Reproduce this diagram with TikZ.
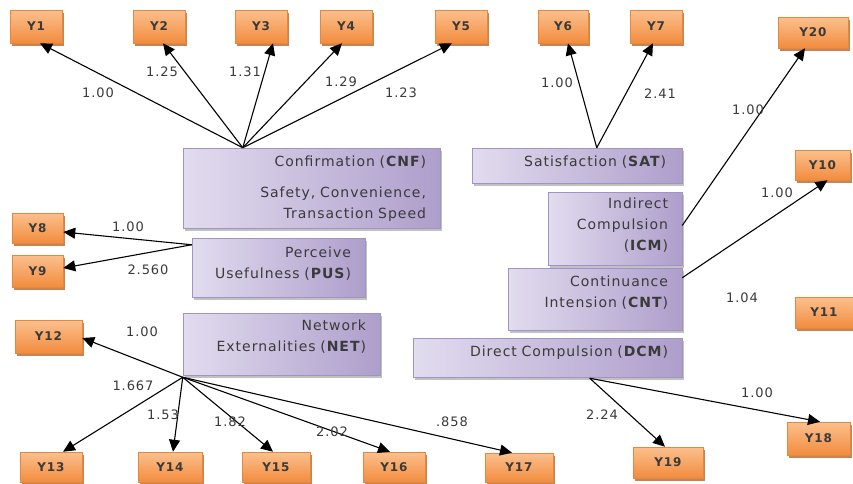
\documentclass[tikz,border=0pt]{standalone}
\usepackage{fontspec}
\setmainfont{DejaVu Sans}[LetterSpace=7]
\usetikzlibrary{arrows.meta,shadows,calc}
\definecolor{txt}{HTML}{3A3A3A}
\definecolor{pl}{HTML}{E2DCEF}
\definecolor{pr}{HTML}{AE9ECB}
\definecolor{pbd}{HTML}{A294C2}
\definecolor{ot}{HTML}{FBC08E}
\definecolor{ob}{HTML}{F28C3E}
\definecolor{obd}{HTML}{E3893F}
\definecolor{osh}{HTML}{B9652A}
\newcommand{\rlines}[2]{\begin{tabular}{@{}r@{}}#1\\[#2]\end{tabular}}
\tikzset{
  obox/.style={draw=obd, line width=0.5pt, top color=ot, bottom color=ob,
    drop shadow={shadow xshift=2pt, shadow yshift=-3pt, fill=osh, opacity=0.8},
    font=\fontsize{12}{14}\selectfont\bfseries, text=txt, inner sep=0pt},
  pbox/.style={draw=pbd, line width=0.5pt, left color=pl, right color=pr,
    drop shadow={shadow xshift=2pt, shadow yshift=-3pt, fill=black!40, opacity=0.6},
    font=\fontsize{14}{21}\selectfont, text=txt, align=right, inner xsep=14pt, inner ysep=0pt},
  arr/.style={draw=black, line width=1.1pt, -{Triangle[length=12pt,width=11pt]}},
  lbl/.style={font=\fontsize{13}{15}\selectfont, text=txt, inner sep=0pt},
}
\begin{document}
\begin{tikzpicture}[x=1pt,y=-1pt]
\useasboundingbox (0,0) rectangle (853,483);
\fill[white] (0,0) rectangle (853,483);
% orange indicator boxes
\node[obox, minimum width=52pt, minimum height=33pt] (y1) at (36,26.5) {Y1};
\node[obox, minimum width=52pt, minimum height=33pt] (y2) at (159,26.5) {Y2};
\node[obox, minimum width=52pt, minimum height=33pt] (y3) at (261,26.5) {Y3};
\node[obox, minimum width=52pt, minimum height=33pt] (y4) at (346,26.5) {Y4};
\node[obox, minimum width=52pt, minimum height=33pt] (y5) at (461,26.5) {Y5};
\node[obox, minimum width=50pt, minimum height=33pt] (y6) at (563,26.5) {Y6};
\node[obox, minimum width=52pt, minimum height=33pt] (y7) at (656,26.5) {Y7};
\node[obox, minimum width=70pt, minimum height=31pt] (y20) at (813,32.5) {Y20};
\node[obox, minimum width=55pt, minimum height=30pt] (y10) at (822.5,165) {Y10};
\node[obox, minimum width=58pt, minimum height=31pt] (y11) at (824,312.5) {Y11};
\node[obox, minimum width=51pt, minimum height=30pt] (y8) at (37.5,228) {Y8};
\node[obox, minimum width=51pt, minimum height=32pt] (y9) at (37.5,271) {Y9};
\node[obox, minimum width=67pt, minimum height=33pt] (y12) at (48.5,336.5) {Y12};
\node[obox, minimum width=62pt, minimum height=30pt] (y13) at (51,467) {Y13};
\node[obox, minimum width=64pt, minimum height=30pt] (y14) at (170,467) {Y14};
\node[obox, minimum width=68pt, minimum height=30pt] (y15) at (276,467) {Y15};
\node[obox, minimum width=62pt, minimum height=30pt] (y16) at (394,467) {Y16};
\node[obox, minimum width=68pt, minimum height=29pt] (y17) at (519,467.5) {Y17};
\node[obox, minimum width=70pt, minimum height=31pt] (y19) at (668,462.5) {Y19};
\node[obox, minimum width=63pt, minimum height=33pt] (y18) at (818.5,438.5) {Y18};
% purple construct boxes
\node[pbox, text width=229pt, minimum height=80pt] (cnf) at (311.5,188)
  {\rlines{Confirmation (\textbf{CNF})\\[10pt]Safety, Convenience,\\Transaction Speed}{0pt}};
\node[pbox, text width=145pt, minimum height=59pt] (pus) at (278.5,267.5)
  {\rlines{Perceive\\Usefulness (\textbf{PUS})}{8pt}};
\node[pbox, text width=178pt, minimum height=35pt, inner xsep=16pt] (sat) at (577,165.5)
  {\rlines{Satisfaction (\textbf{SAT})}{7pt}};
\node[pbox, text width=106pt, minimum height=73pt] (icm) at (615,228.5)
  {\rlines{Indirect\\Compulsion\\(\textbf{ICM})}{6pt}};
\node[pbox, text width=146pt, minimum height=62pt] (cnt) at (595,299)
  {\rlines{Continuance\\Intension (\textbf{CNT})}{12pt}};
\node[pbox, text width=241pt, minimum height=39pt] (dcm) at (547.5,357.5)
  {\rlines{Direct Compulsion (\textbf{DCM})}{11pt}};
\node[pbox, text width=169pt, minimum height=62pt] (net) at (281.5,344)
  {\rlines{Network\\Externalities (\textbf{NET})}{14pt}};
% CNF
\coordinate (cnfs) at ($(cnf.north west)+(60,0)$);
\draw[arr] (cnfs) -- ($(y1.south)+(4,0)$) node[lbl, at={(98,93)}] {1.00};
\draw[arr] (cnfs) -- ($(y2.south)+(4,0)$) node[lbl, at={(162,72)}] {1.25};
\draw[arr] (cnfs) -- ($(y3.south)+(12,0)$) node[lbl, at={(245,72)}] {1.31};
\draw[arr] (cnfs) -- ($(y4.south)+(-4,0)$) node[lbl, at={(341,82)}] {1.29};
\draw[arr] (cnfs) -- ($(y5.south)+(-9,0)$) node[lbl, at={(401,93)}] {1.23};
% SAT
\coordinate (sats) at ($(sat.north west)+(125,0)$);
\draw[arr] (sats) -- ($(y6.south)+(5,0)$) node[lbl, at={(557,83)}] {1.00};
\draw[arr] (sats) -- ($(y7.south)+(-3,0)$) node[lbl, at={(660,94)}] {2.41};
% ICM, CNT
\draw[arr] ($(icm.east)+(0,-3)$) -- ($(y20.south)+(-8,0)$) node[lbl, at={(748,110)}] {1.00};
\draw[arr] ($(cnt.north east)+(0,10)$) -- ($(y10.south)+(5,0)$) node[lbl, at={(777,193)}] {1.00};
\node[lbl] (l104) at (742,298) {1.04};
% PUS
\coordinate (puss) at ($(pus.north west)+(0,7)$);
\draw[arr] (puss) -- ($(y8.east)+(0,4)$) node[lbl, at={(128,227)}] {1.00};
\draw[arr] (puss) -- ($(y9.east)+(0,-3)$) node[lbl, at={(148,270)}] {2.560};
% NET
\coordinate (nets) at ($(net.south west)+(0,2)$);
\draw[arr] (nets) -- ($(y12.east)+(0,1.5)$) node[lbl, at={(142,332)}] {1.00};
\draw[arr] (nets) -- ($(y13.north)+(12,0)$) node[lbl, at={(133,386)}] {1.667};
\draw[arr] (nets) -- ($(y14.north)+(3,0)$) node[lbl, at={(163,415)}] {1.53};
\draw[arr] (nets) -- ($(y15.north)+(-3,0)$) node[lbl, at={(230,422)}] {1.82};
\draw[arr] (nets) -- ($(y16.north)+(-4,0)$) node[lbl, at={(332,432)}] {2.02};
\draw[arr] (nets) -- ($(y17.north)+(-7,0)$) node[lbl, at={(452,422)}] {.858};
% DCM
\coordinate (dcms) at ($(dcm.south west)+(177,1)$);
\draw[arr] (dcms) -- ($(y19.north)+(-3,0)$) node[lbl, at={(602,415)}] {2.24};
\draw[arr] (dcms) -- ($(y18.north)+(1.5,0)$) node[lbl, at={(757,393)}] {1.00};
\end{tikzpicture}
\end{document}
